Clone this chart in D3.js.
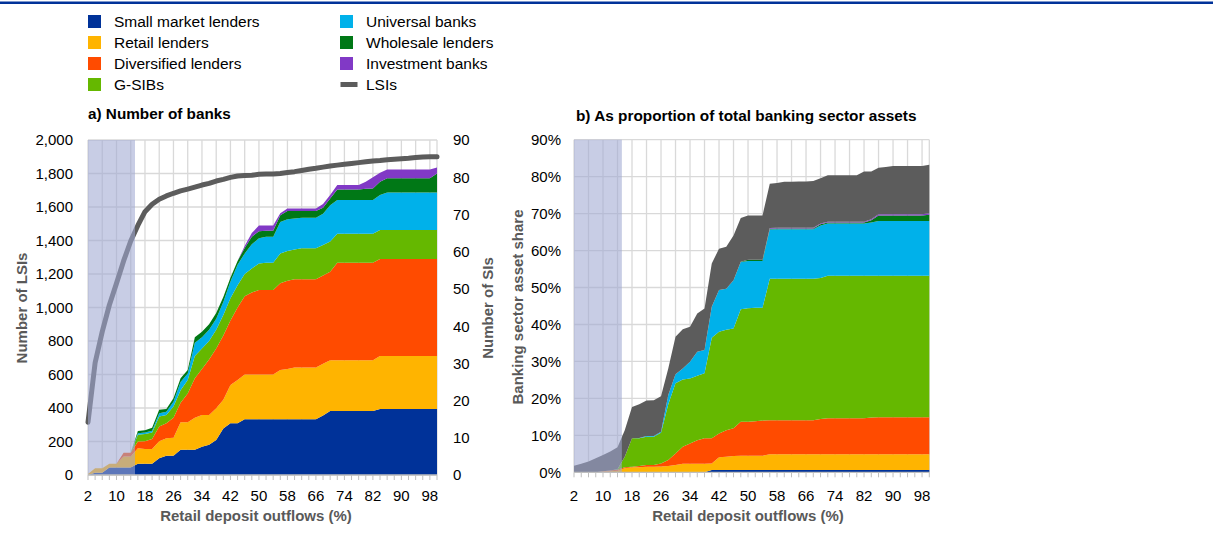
<!DOCTYPE html>
<html><head><meta charset="utf-8">
<script src="https://cdn.jsdelivr.net/npm/d3@7"></script>
<style>
html,body{margin:0;padding:0;background:#fff;}
svg{display:block;font-family:"Liberation Sans",Arial,Helvetica,sans-serif;}
</style></head>
<body><svg id="c" width="1213" height="534"></svg>
<script>
// ---------- DATA ----------
const categories = [2,4,6,8,10,12,14,16,18,20,22,24,26,28,30,32,34,36,38,40,42,44,46,48,50,52,54,56,58,60,62,64,66,68,70,72,74,76,78,80,82,84,86,88,90,92,94,96,98,100];
const xTickLabels = [2,10,18,26,34,42,50,58,66,74,82,90,98];
const lsiTicks = [0,200,400,600,800,1000,1200,1400,1600,1800,2000];
const siTicks = [0,10,20,30,40,50,60,70,80,90];
const shareTicks = [0,10,20,30,40,50,60,70,80,90];
const shadedRange = [2, 15.2];

const seriesNames = ["Small market lenders","Retail lenders","Diversified lenders","G-SIBs","Universal banks","Wholesale lenders","Investment banks","LSIs"];
const seriesColors = ["#003299","#ffb400","#ff4b00","#65b800","#00b1ea","#007816","#8139c6","#5c5c5c"];

// a) Number of banks — LSIs (left axis)
const lsiCount = [315,670,856,1015,1144,1278,1397,1490,1572,1616,1646,1666,1682,1696,1707,1719,1731,1741,1755,1765,1777,1785,1788,1790,1795,1797,1797,1800,1806,1811,1818,1825,1831,1838,1845,1850,1855,1860,1865,1870,1875,1878,1882,1885,1888,1891,1895,1899,1900,1900];
// a) Number of SIs by business model (right axis)
const siSmallMarket = [0,0.6,0.6,2,2,2,2,3,3,3,4.5,5.2,5.2,6.8,6.8,6.8,7.6,8.1,9.4,12.5,13.9,13.9,15,15,15,15,15,15,15,15,15,15,15,16,17.2,17.2,17.2,17.2,17.2,17.2,17.2,17.7,17.7,17.7,17.7,17.7,17.7,17.7,17.7,17.7];
const siRetail = [0.3,1.2,1.2,1,1,3,3,4.2,4,4,4.6,4.7,4.8,7.4,7.4,8.6,8.5,8,8.5,7.7,10.3,11.6,12,12,12,12,12,13.2,13.5,13.9,13.9,13.9,13.9,13.9,13.6,13.6,13.6,13.6,13.6,13.6,13.6,14.3,14.3,14.3,14.3,14.3,14.3,14.3,14.3,14.3];
const siDiversified = [0,0,0,0,0,1,1,1.8,2.1,2.7,3.9,4,5.4,5.2,7.7,10.6,12.4,14.9,16.1,17.3,17.3,19.5,21,22,22.7,22.7,22.7,23.3,23.7,23.7,23.7,23.7,23.7,23.7,23.8,26.2,26.2,26.2,26.2,26.2,26.2,26,26,26,26,26,26,26,26,26];
const siGSIB = [0,0,0,0,0,0,0,1.8,1.9,1.7,2.7,2.2,3,3.4,3.6,6,5.5,5,5,5.5,6,6,6,6.5,7.1,7.3,7.3,8,8,8,8.3,8.3,8.3,8.2,8.1,7.8,7.8,7.8,7.8,7.8,7.8,7.8,7.8,7.8,7.8,7.8,7.8,7.8,7.8,7.8];
const siUniversal = [0,0,0,0,0,0,0,0.4,0.4,0.5,0.9,0.9,1.3,2.2,1.8,3.5,3,3,3,3.5,4.5,5.5,5.5,6.5,6.8,7,7,8.5,8.5,8.3,8.2,8.2,8.2,8.4,9.8,9.1,9.1,9.1,9.1,9.1,9.1,9.4,10.1,10.1,10.1,10.1,10.1,10.1,10.1,10.1];
const siWholesale = [0,0,0,0,0,0,0,0.6,0.6,0.8,0.9,0.7,0.9,1,0.9,1.5,1.5,1.5,1.5,1.3,1,1,1.5,2,1.9,1.6,1.6,1.8,2.2,2,1.8,1.8,1.8,1.6,1.8,2.8,2.8,2.8,2.8,3,3.1,3.6,3.8,3.8,3.8,3.8,3.8,3.8,3.8,5.1];
const siInvestment = [0,0,0,0,0,0,0,0,0,0,0,0,0,0,0,0,0,0,0,0,0,0,0.5,1,1.5,1.4,1.4,0.5,0.7,0.7,0.7,0.7,0.7,1,0.9,1.2,1.2,1.2,1.2,1.9,3,2.4,2.4,2.4,2.4,2.4,2.4,2.4,2.4,1.6];

// b) Share of total banking sector assets (%)
const shareSmallMarket = [0,0,0,0,0,0,0,0,0,0,0,0,0,0,0,0,0,0,0,0.6,0.6,0.6,0.6,0.6,0.6,0.6,0.6,0.6,0.6,0.6,0.6,0.6,0.6,0.6,0.6,0.6,0.6,0.6,0.6,0.6,0.6,0.6,0.6,0.6,0.6,0.6,0.6,0.6,0.6,0.6];
const shareRetail = [0,0,0,0,0.2,0.3,0.4,1.1,1.4,1.4,1.5,1.5,1.6,1.7,2,2.3,2.3,2.3,2.3,1.8,3.5,3.6,3.8,3.9,3.9,3.9,3.9,4.3,4.3,4.3,4.3,4.3,4.3,4.3,4.3,4.3,4.3,4.3,4.3,4.3,4.3,4.3,4.3,4.3,4.3,4.3,4.3,4.3,4.3,4.3];
const shareDiversified = [0,0,0,0,0.1,0.2,0.3,0.3,0.1,0.3,0.5,0.5,0.8,1.6,3.1,4.6,5.5,6.4,6.9,6.8,6.4,7.2,7.5,9.2,9.2,9.3,9.5,9.2,9.2,9.2,9.2,9.2,9.2,9.2,9.5,9.7,9.7,9.7,9.7,9.7,9.7,9.9,10,10,10,10,10,10,10,10];
const shareGSIB = [0,0,0,0,0,0,0.1,2.8,7.7,7.5,7.6,7.6,8.3,15.1,19,18.2,17.6,17.4,17.6,27.2,27.5,27.2,27,30.4,30.7,30.7,30.5,38.3,38.3,38.3,38.3,38.3,38.3,38.3,38.2,38.6,38.6,38.6,38.6,38.6,38.6,38.4,38.3,38.3,38.3,38.3,38.3,38.3,38.3,38.3];
const shareUniversal = [0,0,0,0,0,0,0,0,0,0.1,0.2,0.2,0.3,2.5,2.4,3,4.5,6.5,6.3,8.4,11.3,11.1,13.1,12.8,12.8,12.7,12.7,13.3,13.4,13.4,13.4,13.4,13.4,13.4,14.2,14.1,14.1,14.1,14.1,14.1,14.1,14.4,14.8,14.8,14.8,14.8,14.8,14.8,14.8,14.8];
const shareWholesale = [0,0,0,0,0,0,0,0,0,0,0,0,0,0,0,0,0,0,0,0,0,0,0,0.1,0.3,0.3,0.3,0.2,0.2,0.2,0.2,0.2,0.2,0.2,0.3,0.3,0.3,0.3,0.3,0.3,0.3,0.6,1.5,1.5,1.5,1.5,1.5,1.5,1.5,1.7];
const shareInvestment = [0,0,0,0,0,0,0,0,0,0,0,0,0,0,0,0,0,0,0,0,0,0,0,0,0,0,0,0.2,0.2,0.2,0.2,0.2,0.2,0.2,0.2,0.2,0.2,0.2,0.2,0.2,0.2,0.3,0.3,0.3,0.3,0.3,0.3,0.3,0.3,0.4];
const shareLSI = [1.8,2.3,2.9,3.8,4.4,5.1,6,7.2,8.5,9.1,9.6,9.7,9.6,7.2,10.2,10.6,9.5,10.4,11.2,11.7,11.2,11.3,12.1,11.8,12,12,12,12,12.1,12.4,12.4,12.5,12.5,12.6,12.3,12.6,12.6,12.6,12.6,12.6,13.6,12.9,12.6,12.8,13.1,13.1,13.1,13.1,13.1,13.1];

// ---------- DRAW ----------
const svg = d3.select("#c");
const GRID = "#d9d9d9", AXIS = "#bfbfbf", TITLE = "#595959";
const fmt = d3.format(",");

svg.append("rect").attr("x",0).attr("y",1.5).attr("width",1213).attr("height",2.5).attr("fill","#003299");

// legend
const legendPos = [[88,21.5],[88,42.5],[88,63.5],[88,84.5],[340,21.5],[340,42.5],[340,63.5],[340,84.5]];
const legendOrder = [0,1,2,3,4,5,6,7];
legendOrder.forEach((k,j)=>{
  const [lx,ly] = legendPos[j];
  if (k===7) {
    svg.append("rect").attr("x",lx+0.5).attr("y",ly-2.5).attr("width",17).attr("height",5).attr("fill",seriesColors[k]);
  } else {
    svg.append("rect").attr("x",lx).attr("y",ly-6.5).attr("width",13).attr("height",13).attr("fill",seriesColors[k]);
  }
  svg.append("text").attr("x",lx+26).attr("y",ly).attr("dy","0.36em")
    .attr("font-size",15.5).attr("fill","#000").text(seriesNames[k]);
});

function drawPanel(opt){
  const {x, y, yTicks, xLeft, xRight, yTop, yBottom} = opt;
  const g = svg.append("g");
  yTicks.forEach(t=>{
    g.append("line").attr("x1",xLeft).attr("x2",xRight).attr("y1",y(t)).attr("y2",y(t))
      .attr("stroke",GRID).attr("stroke-width",1.3);
  });
  categories.forEach((c,i)=>{
    if (i%2===0 || i===categories.length-1) {
      g.append("line").attr("x1",x(c)).attr("x2",x(c)).attr("y1",yTop).attr("y2",yBottom)
        .attr("stroke",GRID).attr("stroke-width",1.3);
    }
  });
  return g;
}

function drawXAxis(x, yBase, labelY, titleX){
  categories.forEach(c=>{
    svg.append("line").attr("x1",x(c)).attr("x2",x(c)).attr("y1",yBase).attr("y2",yBase+5)
      .attr("stroke",AXIS).attr("stroke-width",1);
  });
  svg.append("line").attr("x1",x(2)).attr("x2",x(100)).attr("y1",yBase).attr("y2",yBase)
    .attr("stroke",AXIS).attr("stroke-width",1.3);
  xTickLabels.forEach(v=>{
    svg.append("text").attr("x",x(v)).attr("y",labelY).attr("text-anchor","middle")
      .attr("font-size",15).attr("fill","#000").text(v);
  });
  svg.append("text").attr("x",titleX).attr("y",521).attr("text-anchor","middle")
    .attr("font-size",15).attr("font-weight","bold").attr("fill",TITLE).text("Retail deposit outflows (%)");
}

// ----- Panel a -----
const xL = d3.scaleLinear().domain([2,100]).range([88,437]);
const yL = d3.scaleLinear().domain([0,2000]).range([475,140]);
const ySI = d3.scaleLinear().domain([0,90]).range([475,140]);
drawPanel({x:xL, y:yL, yTicks:lsiTicks, xLeft:88, xRight:437, yTop:140, yBottom:475});

const siKeys = ["small","retail","div","gsib","univ","whole","inv"];
const siRows = categories.map((c,i)=>({cat:c, small:siSmallMarket[i], retail:siRetail[i], div:siDiversified[i], gsib:siGSIB[i], univ:siUniversal[i], whole:siWholesale[i], inv:siInvestment[i]}));
const siStack = d3.stack().keys(siKeys)(siRows);
const areaL = d3.area().x(d=>xL(d.data.cat)).y0(d=>ySI(d[0])).y1(d=>ySI(d[1]));
svg.append("g").selectAll("path").data(siStack).join("path")
  .attr("d",areaL).attr("fill",(d,i)=>seriesColors[i]);

const lineL = d3.line().x((d,i)=>xL(categories[i])).y(d=>yL(d)).curve(d3.curveLinear);
svg.append("path").datum(lsiCount).attr("d",lineL).attr("fill","none")
  .attr("stroke",seriesColors[7]).attr("stroke-width",5).attr("stroke-linejoin","round").attr("stroke-linecap","round");

svg.append("rect").attr("x",xL(shadedRange[0])).attr("y",140).attr("width",xL(shadedRange[1])-xL(shadedRange[0])).attr("height",335)
  .attr("fill","rgb(160,168,210)").attr("fill-opacity",0.58);

drawXAxis(xL, 475, 501, 256);
lsiTicks.forEach(t=>{
  svg.append("text").attr("x",73).attr("y",yL(t)).attr("dy","0.36em").attr("text-anchor","end")
    .attr("font-size",15).attr("fill","#000").text(fmt(t));
});
siTicks.forEach(t=>{
  svg.append("text").attr("x",453).attr("y",ySI(t)).attr("dy","0.36em").attr("text-anchor","start")
    .attr("font-size",15).attr("fill","#000").text(t);
});
svg.append("text").attr("transform","translate(27,308) rotate(-90)").attr("text-anchor","middle")
  .attr("font-size",15).attr("font-weight","bold").attr("fill",TITLE).text("Number of LSIs");
svg.append("text").attr("transform","translate(493,308) rotate(-90)").attr("text-anchor","middle")
  .attr("font-size",15).attr("font-weight","bold").attr("fill",TITLE).text("Number of SIs");
svg.append("text").attr("x",88).attr("y",119).attr("font-size",15.3).attr("font-weight","bold").attr("fill","#000").text("a) Number of banks");

// ----- Panel b -----
const xR = d3.scaleLinear().domain([2,100]).range([574,929.3]);
const yR = d3.scaleLinear().domain([0,90]).range([472.3,139.7]);
drawPanel({x:xR, y:yR, yTicks:shareTicks, xLeft:574, xRight:929.3, yTop:139.7, yBottom:472.3});

const shKeys = ["small","retail","div","gsib","univ","whole","inv","lsi"];
const shRows = categories.map((c,i)=>({cat:c, small:shareSmallMarket[i], retail:shareRetail[i], div:shareDiversified[i], gsib:shareGSIB[i], univ:shareUniversal[i], whole:shareWholesale[i], inv:shareInvestment[i], lsi:shareLSI[i]}));
const shStack = d3.stack().keys(shKeys)(shRows);
const areaR = d3.area().x(d=>xR(d.data.cat)).y0(d=>yR(d[0])).y1(d=>yR(d[1]));
svg.append("g").selectAll("path").data(shStack).join("path")
  .attr("d",areaR).attr("fill",(d,i)=>seriesColors[i]);

svg.append("rect").attr("x",xR(shadedRange[0])).attr("y",139.7).attr("width",xR(shadedRange[1])-xR(shadedRange[0])).attr("height",332.6)
  .attr("fill","rgb(160,168,210)").attr("fill-opacity",0.58);

drawXAxis(xR, 472.3, 501, 748);
shareTicks.forEach(t=>{
  svg.append("text").attr("x",561).attr("y",yR(t)).attr("dy","0.36em").attr("text-anchor","end")
    .attr("font-size",15).attr("fill","#000").text(t+"%");
});
svg.append("text").attr("transform","translate(523,307) rotate(-90)").attr("text-anchor","middle")
  .attr("font-size",15).attr("font-weight","bold").attr("fill",TITLE).text("Banking sector asset share");
svg.append("text").attr("x",576).attr("y",121).attr("font-size",15.35).attr("font-weight","bold").attr("fill","#000").text("b) As proportion of total banking sector assets");
</script></body></html>
